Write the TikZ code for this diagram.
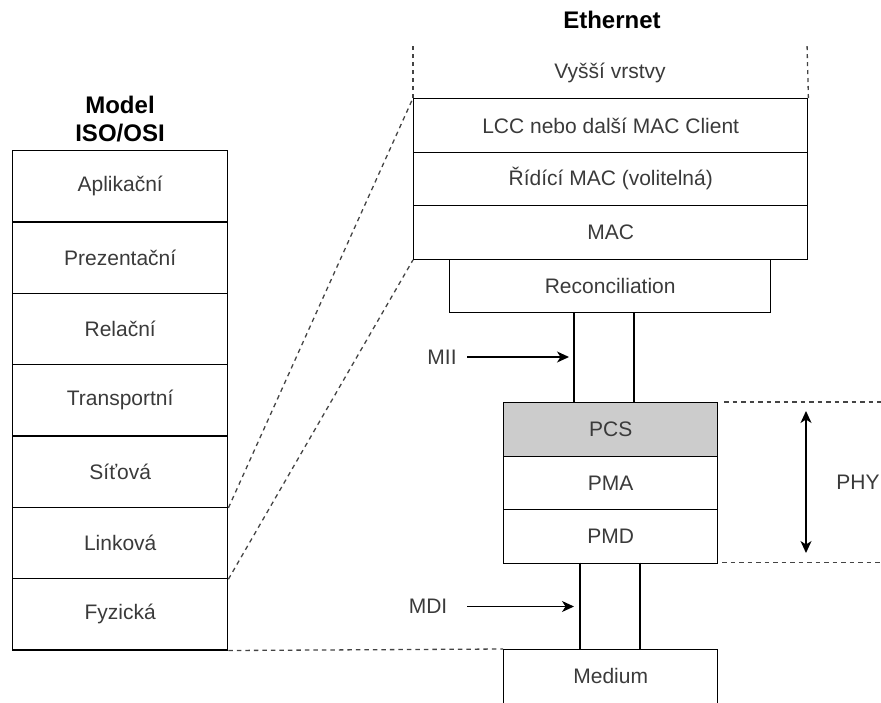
\documentclass[tikz,border=0pt]{standalone}
\usepackage{fontspec}
\setmainfont{Liberation Sans}
\usetikzlibrary{arrows.meta,calc}
\definecolor{txt}{HTML}{3A3A3A}
\definecolor{dsh}{HTML}{444444}
\begin{document}
\begin{tikzpicture}[x=1pt,y=-1pt,
  layer/.style={draw=black,line width=1.4pt,rectangle,anchor=north west,inner sep=0pt,
    text=txt,font=\fontsize{21}{25}\selectfont},
  lbl/.style={text=txt,font=\fontsize{21}{25}\selectfont,inner sep=0pt},
  ttl/.style={text=black,font=\fontsize{24}{28}\selectfont\bfseries,inner sep=0pt,align=center},
  dline/.style={draw=dsh,line width=1.3pt,dash pattern=on 4.5pt off 4pt},
  tline/.style={draw=dsh,line width=1.3pt,dash pattern=on 4pt off 4pt},
  wire/.style={draw=black,line width=1.4pt},
  arr/.style={draw=black,line width=1.4pt,-{Stealth[length=12pt,width=11pt,inset=3.5pt]}},
  darr/.style={draw=black,line width=1.4pt,{Stealth[length=12pt,width=11pt,inset=3.5pt]}-{Stealth[length=12pt,width=11pt,inset=3.5pt]}}]
\useasboundingbox (0,0) rectangle (881,702);
% ISO/OSI column
\node[ttl] (osititle) at (120,119) {Model\\ISO/OSI};
\foreach \nm/\tx [count=\i from 0] in {apl/Aplikační,pre/Prezentační,rel/Relační,tra/Transportní,sit/Síťová,lin/Linková,fyz/Fyzická}{
  \node[layer,minimum width=215pt,minimum height=71.3pt] (\nm) at (12,{150+\i*71.3}) {\tx};
}
% Ethernet stack
\node[ttl] (ethtitle) at (612,20) {Ethernet};
\node[lbl] (vyssi) at (610,73) {Vyšší vrstvy};
\node[layer,minimum width=394pt,minimum height=53.5pt] (lcc) at (413,98) {LCC nebo další MAC Client};
\node[layer,minimum width=394pt,minimum height=53.5pt] (rmac) at (413,151.5) {Řídící MAC (volitelná)};
\node[layer,minimum width=394pt,minimum height=53.5pt] (mac) at (413,205) {MAC};
\node[layer,minimum width=321pt,minimum height=53.5pt] (rec) at (449,258.5) {Reconciliation};
\node[layer,minimum width=214pt,minimum height=53.5pt,fill=black!20] (pcs) at (503,402) {PCS};
\node[layer,minimum width=214pt,minimum height=53.5pt] (pma) at (503,455.5) {PMA};
\node[layer,minimum width=214pt,minimum height=53.5pt] (pmd) at (503,509) {PMD};
\node[layer,minimum width=214pt,minimum height=55pt] (med) at (503,649) {\raisebox{2.5pt}{Medium}};
% labels
\node[lbl] (mii) at (442,357) {MII};
\node[lbl] (mdi) at (428,606) {MDI};
\node[lbl] (phy) at (858,482) {PHY};
% coordinates
\coordinate (lccTopL) at (413,43);
\coordinate (lccTopR) at (807,43);
\coordinate (miiA1) at (574,312);
\coordinate (miiA2) at (574,402);
\coordinate (miiB1) at (634,312);
\coordinate (miiB2) at (634,402);
\coordinate (mdiA1) at (580,562.5);
\coordinate (mdiA2) at (580,649);
\coordinate (mdiB1) at (640,562.5);
\coordinate (mdiB2) at (640,649);
\coordinate (miiS) at (467,357);
\coordinate (miiT) at (569,357);
\coordinate (mdiS) at (467,606.5);
\coordinate (mdiT) at (574,606.5);
\coordinate (phyT1) at (724,402);
\coordinate (phyT2) at (881,402);
\coordinate (phyB1) at (722,562.5);
\coordinate (phyB2) at (881,562.5);
\coordinate (phyU) at (806,411);
\coordinate (phyD) at (806,553);
% wires
\draw[wire] (miiA1) -- (miiA2);
\draw[wire] (miiB1) -- (miiB2);
\draw[wire] (mdiA1) -- (mdiA2);
\draw[wire] (mdiB1) -- (mdiB2);
% arrows
\draw[arr] (miiS) -- (miiT);
\draw[arr] (mdiS) -- (mdiT);
\draw[darr] (phyU) -- (phyD);
% dashed
\draw[tline] (lcc.north west) -- (lccTopL);
\draw[tline] (lcc.north east) -- (lccTopR);
\draw[dline] (sit.south east) -- (lcc.north west);
\draw[dline] (lin.south east) -- (mac.south west);
\draw[dline] (fyz.south east) -- (med.north west);
\draw[dline] (phyT1) -- (phyT2);
\draw[dline] (phyB1) -- (phyB2);
\end{tikzpicture}
\end{document}
